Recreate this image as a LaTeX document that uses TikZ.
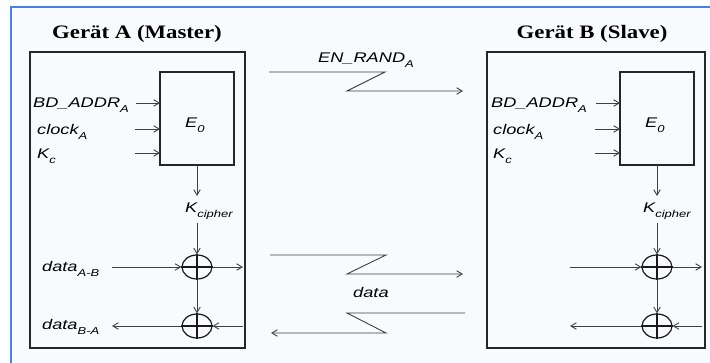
\documentclass[tikz,border=0pt]{standalone}
\usepackage{fontspec}
\setmainfont{Liberation Serif}
\newfontfamily\lblfont[FakeStretch=1.3]{Liberation Sans}
\newfontfamily\headfont[FakeStretch=1.2]{Liberation Serif}
\usetikzlibrary{arrows.meta,shapes.geometric}
\definecolor{bgc}{RGB}{248,250,253}
\definecolor{framec}{RGB}{70,130,230}
\newcommand{\lsub}[1]{\raisebox{-5pt}{\fontsize{10}{10}\selectfont #1}}
\begin{document}
\begin{tikzpicture}[x=1pt,y=-1pt,
  lbl/.style={font=\lblfont\itshape\fontsize{14}{14}\selectfont, inner sep=0pt, text=black},
  head/.style={font=\headfont\bfseries\fontsize{19}{19}\selectfont, inner sep=0pt},
  devbox/.style={draw=black!85, line width=1.4pt, inner sep=0pt, outer sep=0pt, anchor=north west},
  ebox/.style={draw=black!85, line width=1.1pt, inner sep=0pt, outer sep=0pt, anchor=north west},
  xor/.style={ellipse, draw=black!90, line width=1.2pt, minimum width=30pt, minimum height=24pt, inner sep=0pt},
  arr/.style={-{Straight Barb[length=5.5pt,width=6.5pt]}, draw=black!75, line width=0.9pt},
  ln/.style={draw=black!90, line width=1.1pt}]
\useasboundingbox (0,0) rectangle (710,363);
\fill[white] (0,0) rectangle (710,363);
\fill[bgc] (11,7) rectangle (710,363);
\draw[framec, line width=1.5pt] (11,363) -- (11,7) -- (710,7);

% ---------- Device A ----------
\node[head, anchor=base] (hA) at (137,39) {Gerät A (Master)};
\node[devbox, minimum width=215pt, minimum height=296pt] (devA) at (30,52) {};
\node[ebox, minimum width=74pt, minimum height=93pt] (eA) at (160,72) {};
\node[lbl, anchor=base west] (e0A) at (185,128) {E\lsub{0}};

\node[lbl, anchor=base west] (bdA) at (33,108) {BD\_ADDR\lsub{A}};
\node[lbl, anchor=base west] (clA) at (37,135) {clock\lsub{A}};
\node[lbl, anchor=base west] (kcA) at (37,159) {K\lsub{c}};
\coordinate (iA1) at (136,103);
\coordinate (iA2) at (135,129);
\coordinate (iA3) at (135,153);
\draw[arr] (iA1) -- (iA1 -| eA.west);
\draw[arr] (iA2) -- (iA2 -| eA.west);
\draw[arr] (iA3) -- (iA3 -| eA.west);

\coordinate (kAtop) at (197,196);
\coordinate (kAbot) at (197,223);
\draw[arr] (eA.south) -- (kAtop);
\node[lbl, anchor=base west] (kciA) at (185,213) {K\lsub{cipher}};

\node[xor] (xA1) at (197,267) {};
\node[xor] (xA2) at (197,326) {};
\draw[ln] (xA1.north) -- (xA1.south) (xA1.west) -- (xA1.east);
\draw[ln] (xA2.north) -- (xA2.south) (xA2.west) -- (xA2.east);
\draw[arr] (kAbot) -- (xA1.north);
\draw[arr] (xA1.south) -- (xA2.north);

\node[lbl, anchor=base west] (dabA) at (42,272) {data\lsub{A-B}};
\node[lbl, anchor=base west] (dbaA) at (42,330) {data\lsub{B-A}};
\coordinate (dinA) at (112,267);
\coordinate (doutA) at (243,267);
\coordinate (rinA) at (243,326);
\coordinate (routA) at (112,326);
\draw[arr] (dinA) -- (xA1.west);
\draw[arr] (xA1.east) -- (doutA);
\draw[arr] (rinA) -- (xA2.east);
\draw[arr] (xA2.west) -- (routA);

% ---------- Device B ----------
\node[head, anchor=base] (hB) at (592,39) {Gerät B (Slave)};
\node[devbox, minimum width=218pt, minimum height=296pt] (devB) at (487,52) {};
\node[ebox, minimum width=74pt, minimum height=93pt] (eB) at (620,72) {};
\node[lbl, anchor=base west] (e0B) at (645,128) {E\lsub{0}};

\node[lbl, anchor=base west] (bdB) at (491,108) {BD\_ADDR\lsub{A}};
\node[lbl, anchor=base west] (clB) at (493,135) {clock\lsub{A}};
\node[lbl, anchor=base west] (kcB) at (493,159) {K\lsub{c}};
\coordinate (iB1) at (596,103);
\coordinate (iB2) at (595,129);
\coordinate (iB3) at (595,153);
\draw[arr] (iB1) -- (iB1 -| eB.west);
\draw[arr] (iB2) -- (iB2 -| eB.west);
\draw[arr] (iB3) -- (iB3 -| eB.west);

\coordinate (kBtop) at (657,196);
\coordinate (kBbot) at (657,223);
\draw[arr] (eB.south) -- (kBtop);
\node[lbl, anchor=base west] (kciB) at (643,213) {K\lsub{cipher}};

\node[xor] (xB1) at (657,267) {};
\node[xor] (xB2) at (657,326) {};
\draw[ln] (xB1.north) -- (xB1.south) (xB1.west) -- (xB1.east);
\draw[ln] (xB2.north) -- (xB2.south) (xB2.west) -- (xB2.east);
\draw[arr] (kBbot) -- (xB1.north);
\draw[arr] (xB1.south) -- (xB2.north);

\coordinate (dinB) at (570,267);
\coordinate (doutB) at (702,267);
\coordinate (rinB) at (702,326);
\coordinate (routB) at (570,326);
\draw[arr] (dinB) -- (xB1.west);
\draw[arr] (xB1.east) -- (doutB);
\draw[arr] (rinB) -- (xB2.east);
\draw[arr] (xB2.west) -- (routB);

% ---------- Air link ----------
\node[lbl, anchor=base west] (enr) at (318,63) {EN\_RAND\lsub{A}};
\coordinate (m1a) at (269,72);
\coordinate (m1b) at (385,72);
\coordinate (m1c) at (347,91);
\coordinate (m1d) at (463,91);
\draw[arr] (m1a) -- (m1b) -- (m1c) -- (m1d);

\coordinate (d1a) at (270,255);
\coordinate (d1b) at (386,255);
\coordinate (d1c) at (347,274);
\coordinate (d1d) at (463,274);
\draw[arr] (d1a) -- (d1b) -- (d1c) -- (d1d);
\node[lbl, anchor=base west] (dm) at (353,298) {data};
\coordinate (d2a) at (465,313);
\coordinate (d2b) at (347,313);
\coordinate (d2c) at (386,333);
\coordinate (d2d) at (271,333);
\draw[arr] (d2a) -- (d2b) -- (d2c) -- (d2d);
\end{tikzpicture}
\end{document}
